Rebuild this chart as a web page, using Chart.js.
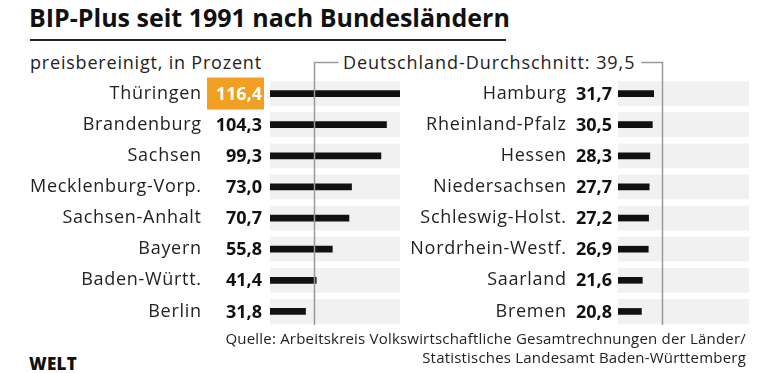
<!DOCTYPE html>
<html>
<head>
<meta charset="utf-8">
<script src="https://cdn.jsdelivr.net/npm/chart.js@4/dist/chart.umd.min.js"></script>
<style>
    body { margin: 0; background: #fff; font-family: "Open Sans", sans-serif; color: #222; }
    #wrap { position: relative; width: 780px; height: 373px; overflow: hidden; }
    .abs { position: absolute; white-space: nowrap; }
    #title { left: 29px; top: 0px; font-size: 25px; font-weight: 700; color: #111; }
    #rule { left: 30px; top: 39px; width: 476px; height: 2px; background: #222; }
    #sub { left: 30px; top: 50px; font-size: 18px; letter-spacing: 0.8px; }
    #avg { left: 343px; top: 50px; font-size: 18px; letter-spacing: 0.95px; }
    #src { right: 34px; top: 329px; font-size: 15px; letter-spacing: 0.2px; text-align: right; line-height: 19px; }
    #logo { left: 29px; top: 352px; font-size: 17px; font-weight: 800; letter-spacing: 0.3px; color: #111; }
    canvas { position: absolute; }
    #left { left: 0; top: 50px; }
    #right { left: 400px; top: 50px; }
</style>
</head>
<body>
<div id="wrap">
    <div class="abs" id="title">BIP-Plus seit 1991 nach Bundesländern</div>
    <div class="abs" id="rule"></div>
    <div class="abs" id="sub">preisbereinigt, in Prozent</div>
    <div class="abs" id="avg">Deutschland-Durchschnitt: 39,5</div>
    <canvas id="left" width="405" height="280"></canvas>
    <canvas id="right" width="380" height="280"></canvas>
    <div class="abs" id="src">Quelle: Arbeitskreis Volkswirtschaftliche Gesamtrechnungen der Länder/<br>Statistisches Landesamt Baden-Württemberg</div>
    <div class="abs" id="logo">WELT</div>
</div>
<script>
const leftStates = ["Thüringen", "Brandenburg", "Sachsen", "Mecklenburg-Vorp.", "Sachsen-Anhalt", "Bayern", "Baden-Württ.", "Berlin"];
const leftValues = [116.4, 104.3, 99.3, 73.0, 70.7, 55.8, 41.4, 31.8];
const rightStates = ["Hamburg", "Rheinland-Pfalz", "Hessen", "Niedersachsen", "Schleswig-Holst.", "Nordrhein-Westf.", "Saarland", "Bremen"];
const rightValues = [31.7, 30.5, 28.3, 27.7, 27.2, 26.9, 21.6, 20.8];
const average = 39.5;
const maxValue = 116.4;
const highlight = "Thüringen";

function fmt(v) {
    return v.toFixed(1).replace(".", ",");
}

// draws names, values and the average line
const labelsPlugin = {
    id: "labels",
    afterDraw(chart, args, opts) {
        const ctx = chart.ctx;
        const y = chart.scales.y;
        const x = chart.scales.x;
        const states = chart.data.labels;
        const values = chart.data.datasets[1].data;
        ctx.save();
        ctx.textBaseline = "middle";
        ctx.textAlign = "right";
        states.forEach((s, i) => {
            const py = y.getPixelForValue(i);
            ctx.font = "18px 'Open Sans'";
            ctx.letterSpacing = "0.7px";
            ctx.fillStyle = "#222";
            ctx.fillText(s, opts.nameX + 0.7, py);
            ctx.font = "bold 18px 'Open Sans'";
            ctx.letterSpacing = "0px";
            if (s === highlight) {
                ctx.fillStyle = "#f2a024";
                ctx.fillRect(opts.valueX - 55, py - 16, 57, 32);
                ctx.fillStyle = "#fff";
            } else {
                ctx.fillStyle = "#111";
            }
            ctx.fillText(fmt(values[i]), opts.valueX, py + 1);
        });
        // average line
        const ax = Math.round(x.getPixelForValue(average)) + 0.5;
        ctx.strokeStyle = "#9a9a9a";
        ctx.lineWidth = 1.5;
        ctx.beginPath();
        ctx.moveTo(ax + opts.tick, 12.5);
        ctx.lineTo(ax, 12.5);
        ctx.lineTo(ax, chart.chartArea.bottom - 2);
        ctx.stroke();
        ctx.restore();
    },
};

function makeChart(id, states, values, padLeft, padRight, nameX, valueX, tick) {
    return new Chart(document.getElementById(id), {
        type: "bar",
        data: {
            labels: states,
            datasets: [
                {
                    data: states.map(() => maxValue),
                    backgroundColor: "#f1f1f1",
                    barThickness: 24,
                    grouped: false,
                    order: 2,
                },
                {
                    data: values,
                    backgroundColor: "#111",
                    barThickness: 6,
                    grouped: false,
                    order: 1,
                },
            ],
        },
        options: {
            indexAxis: "y",
            responsive: false,
            animation: false,
            layout: { padding: { left: padLeft, right: padRight, top: 28, bottom: 3 } },
            plugins: {
                legend: { display: false },
                tooltip: { enabled: false },
                labels: { nameX: nameX, valueX: valueX, tick: tick },
            },
            scales: {
                x: { display: false, min: 0, max: maxValue },
                y: { display: false },
            },
        },
        plugins: [labelsPlugin],
    });
}

makeChart("left", leftStates, leftValues, 270, 5, 201, 262, 24);
makeChart("right", rightStates, rightValues, 218, 31, 166, 212, -21);
</script>
</body>
</html>
